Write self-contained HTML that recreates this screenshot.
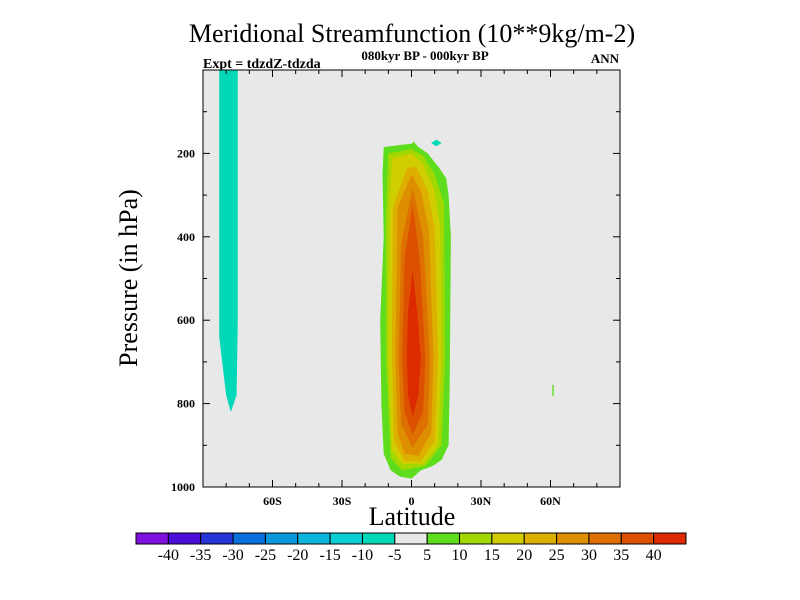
<!DOCTYPE html>
<html><head><meta charset="utf-8"><style>
body{margin:0;background:#fff;}
svg{display:block;font-family:"Liberation Serif",serif;}
</style></head><body>
<svg id="c" width="800" height="600">
<text x="412" y="42" font-size="26" text-anchor="middle">Meridional Streamfunction (10**9kg/m-2)</text>
<text x="203" y="68" font-size="14" font-weight="bold">Expt = tdzdZ-tdzda</text>
<text x="425" y="60" font-size="13" font-weight="bold" text-anchor="middle">080kyr BP - 000kyr BP</text>
<text x="619" y="63" font-size="13" font-weight="bold" text-anchor="end">ANN</text>
<text x="412" y="525" font-size="26" text-anchor="middle">Latitude</text>
<text transform="translate(137,278) rotate(-90)" font-size="26" text-anchor="middle">Pressure (in hPa)</text>
<g id="plot"></g><g id="axes"></g><g id="cbar"></g>
</svg>
<script>
const levels=[-40,-35,-30,-25,-20,-15,-10,-5,5,10,15,20,25,30,35,40];
const colors=["#8010e0","#4b0fd8","#2535d8","#0a70dd","#0a98dd","#0ab5dd","#0acdd5","#00d8b8","#e8e8e8","#5ddd1e","#a2d800","#d0cd00","#ddb000","#dd8f00","#dd7000","#dd5000","#dd2a00"];
const xTicks=[-60,-30,0,30,60];
const xTickLabels=["60S","30S","0","30N","60N"];
const yTicks=[200,400,600,800,1000];
const contourLevels=[5,10,15,20,25,30,35,40,-10,-10,5];
const contourShapes=[
[[-12,185],[-5,180],[0,177],[1,172],[3,185],[7,200],[12,235],[15,260],[16,300],[17,400],[16.5,750],[16,900],[13,935],[9,950],[4,960],[0,980],[-5,975],[-9,960],[-12,920],[-13,800],[-13.5,600],[-12,400],[-12.5,250]],
[[-10,200],[0,190],[5,205],[10,250],[14,320],[14.5,690],[13,900],[6,950],[-4,960],[-9,930],[-11,690],[-11,350]],
[[-8.5,212],[0,200],[5,225],[10,290],[12.5,380],[13,690],[11.5,900],[5,945],[-4,945],[-8.5,910],[-10,690],[-9.5,330]],
[[-2,235],[2,231],[7,290],[10,380],[11.5,690],[10,890],[4,938],[-3,938],[-7.5,890],[-8.5,690],[-8,330]],
[[0,250],[4,290],[7.5,380],[9.5,690],[8.5,870],[3,925],[-3,920],[-6,870],[-7,690],[-6,330]],
[[0.5,283],[5,400],[8,690],[7,850],[0.5,905],[-4.5,850],[-5.5,690],[-4.5,420]],
[[0.5,325],[3.5,450],[6,690],[5,820],[0.5,875],[-3,820],[-4,690],[-3,450]],
[[0.5,480],[2.5,580],[4,690],[3,780],[0.5,830],[-1.5,780],[-2,690],[-1.5,580]],
[[-83,0],[-75,0],[-75,600],[-75.5,780],[-78,820],[-80,780],[-83,640]],
[[8.5,175],[10.7,167],[13,175],[10.7,183]],
[[60.8,755],[61.4,755],[61.4,782],[60.8,782]]
];
const NS="http://www.w3.org/2000/svg";
const X0=203,X1=620,Y0=70,Y1=487;
const xs=lat=>X0+(lat+90)/180*(X1-X0);
const ys=p=>Y0+p/1000*(Y1-Y0);
function mk(t,a,parent){const e=document.createElementNS(NS,t);for(const k in a)e.setAttribute(k,a[k]);parent.appendChild(e);return e;}
const plot=document.getElementById('plot'),axes=document.getElementById('axes'),cb=document.getElementById('cbar');
const bg=mk('rect',{x:X0,y:Y0,width:X1-X0,height:Y1-Y0,fill:"#e8e8e8"},plot);


contourShapes.forEach((pts,i)=>{
 const v=contourLevels[i];
 const c=colors[levels.indexOf(v)+1];
 const el=mk('polygon',{points:pts.map(p=>xs(p[0])+","+ys(p[1])).join(" "),fill:c,"stroke-linejoin":"round"},plot);
 
 
});
const fr=mk('rect',{x:X0,y:Y0,width:X1-X0,height:Y1-Y0,fill:"none",stroke:"#000","stroke-width":1},axes);


for(let lat=-80;lat<=80;lat+=10){const major=lat%30===0;const l=major?7:4;
 mk('line',{x1:xs(lat),x2:xs(lat),y1:Y1,y2:Y1-l,stroke:"#000"},axes);
 mk('line',{x1:xs(lat),x2:xs(lat),y1:Y0,y2:Y0+l,stroke:"#000"},axes);}
xTicks.forEach((t,i)=>{const e=mk('text',{x:xs(t),y:Y1+18,"font-size":12,"font-weight":"bold","text-anchor":"middle"},axes);e.textContent=xTickLabels[i];
 
 });
for(let p=100;p<1000;p+=100){const major=p%200===0;const l=major?7:4;
 mk('line',{x1:X0,x2:X0+l,y1:ys(p),y2:ys(p),stroke:"#000"},axes);
 mk('line',{x1:X1,x2:X1-l,y1:ys(p),y2:ys(p),stroke:"#000"},axes);}
yTicks.forEach(t=>{const e=mk('text',{x:X0-8,y:ys(t)+4,"font-size":12,"font-weight":"bold","text-anchor":"end"},axes);e.textContent=t;
 
 });
const CX0=136,CX1=686,CY=533,CH=11,bw=(CX1-CX0)/colors.length;
colors.forEach((c,i)=>{const r=mk('rect',{x:CX0+i*bw,y:CY,width:bw,height:CH,fill:c,stroke:"#000","stroke-width":1},cb);
 
 });
levels.forEach((v,i)=>{const e=mk('text',{x:CX0+(i+1)*bw,y:CY+27,"font-size":16,"text-anchor":"middle"},cb);e.textContent=v;
 
 });
</script>
</body></html>
